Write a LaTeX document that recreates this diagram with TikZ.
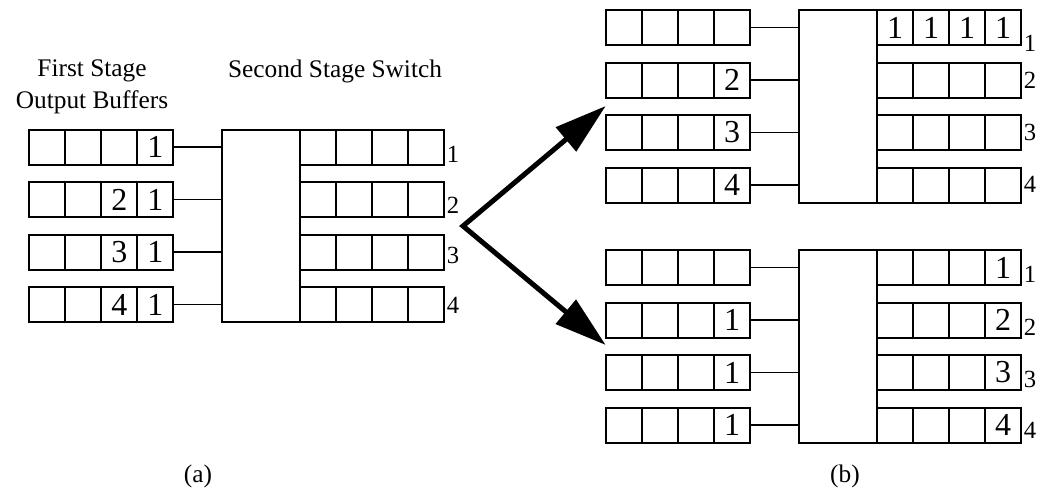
\documentclass[tikz,border=0pt]{standalone}
\usepackage{fontspec}
\setmainfont{Liberation Serif}
\usetikzlibrary{arrows.meta}

% one unit = one pixel of a 1038 x 493 canvas, y running downwards
\tikzset{
  cell/.style={draw, line width=1.5pt, minimum width=27pt, minimum height=26.25pt,
    inner sep=0pt, outer sep=0pt, font=\fontsize{24}{28}\selectfont},
  switchbox/.style={draw, line width=1.5pt, minimum width=58.5pt, minimum height=144.4pt,
    inner sep=0pt, outer sep=0pt, anchor=north west},
  wire/.style={line width=1.3pt},
  portlabel/.style={anchor=base west, inner sep=0pt, font=\fontsize{18.5}{22}\selectfont},
  caption/.style={anchor=base, inner sep=0pt, font=\fontsize{19}{23.5}\selectfont, align=center},
  forkarrow/.style={line width=3.75pt, line join=miter,
    {Triangle[length=39pt,width=23pt]}-{Triangle[length=39pt,width=23pt]}},
}

% a four-cell buffer: name, north-west corner, cell contents
\newcommand\qbuf[6]{%
  \node[cell, anchor=north west] (#1-1) at #2 {#3};
  \node[cell, anchor=west] (#1-2) at (#1-1.east) {#4};
  \node[cell, anchor=west] (#1-3) at (#1-2.east) {#5};
  \node[cell, anchor=west] (#1-4) at (#1-3.east) {#6};
}

% switch body with its four input wires
\newcommand\switchunit[2]{%
  \node[switchbox] (#1-sw) at #2 {};
  \foreach \r in {1,...,4}
    \draw[wire] (#1-i\r-4.east) -- (#1-i\r-4.east -| #1-sw.west);
}

\begin{document}
\begin{tikzpicture}[x=0.75pt, y=-0.75pt]
\useasboundingbox (0,0) rectangle (1038,493);

% ---------- (a) ----------
% base of a two-line node sits on its last line
\node[caption] (t1) at (92,108) {First Stage\\Output Buffers};
\node[caption] (t2) at (335,77) {Second Stage Switch};

\qbuf{a-i1}{(29.3,129.5)}{}{}{}{1}
\qbuf{a-i2}{(29.3,182)}{}{}{2}{1}
\qbuf{a-i3}{(29.3,234.5)}{}{}{3}{1}
\qbuf{a-i4}{(29.3,287)}{}{}{4}{1}
\switchunit{a}{(222.3,129.5)}
\qbuf{a-o1}{(300.3,129.5)}{}{}{}{}
\qbuf{a-o2}{(300.3,182)}{}{}{}{}
\qbuf{a-o3}{(300.3,234.5)}{}{}{}{}
\qbuf{a-o4}{(300.3,287)}{}{}{}{}
\node[portlabel] (a-l1) at (446.5,162) {1};
\node[portlabel] (a-l2) at (446.5,213) {2};
\node[portlabel] (a-l3) at (446.5,263) {3};
\node[portlabel] (a-l4) at (446.5,313) {4};

\node[caption] (cap-a) at (198,482) {(a)};

% ---------- (b), upper switch ----------
\qbuf{u-i1}{(606,10)}{}{}{}{}
\qbuf{u-i2}{(606,62.5)}{}{}{}{2}
\qbuf{u-i3}{(606,115)}{}{}{}{3}
\qbuf{u-i4}{(606,167.5)}{}{}{}{4}
\switchunit{u}{(799,10)}
\qbuf{u-o1}{(877,10)}{1}{1}{1}{1}
\qbuf{u-o2}{(877,62.5)}{}{}{}{}
\qbuf{u-o3}{(877,115)}{}{}{}{}
\qbuf{u-o4}{(877,167.5)}{}{}{}{}
\node[portlabel] (u-l1) at (1023.5,51) {1};
\node[portlabel] (u-l2) at (1023.5,88) {2};
\node[portlabel] (u-l3) at (1023.5,140) {3};
\node[portlabel] (u-l4) at (1023.5,192) {4};

% ---------- (b), lower switch ----------
\qbuf{d-i1}{(606,250)}{}{}{}{}
\qbuf{d-i2}{(606,302.5)}{}{}{}{1}
\qbuf{d-i3}{(606,355)}{}{}{}{1}
\qbuf{d-i4}{(606,407.5)}{}{}{}{1}
\switchunit{d}{(799,250)}
\qbuf{d-o1}{(877,250)}{}{}{}{1}
\qbuf{d-o2}{(877,302.5)}{}{}{}{2}
\qbuf{d-o3}{(877,355)}{}{}{}{3}
\qbuf{d-o4}{(877,407.5)}{}{}{}{4}
\node[portlabel] (d-l1) at (1023.5,282) {1};
\node[portlabel] (d-l2) at (1023.5,335) {2};
\node[portlabel] (d-l3) at (1023.5,387) {3};
\node[portlabel] (d-l4) at (1023.5,438) {4};

\node[caption] (cap-b) at (845,482) {(b)};

% ---------- the two possible outcomes ----------
\coordinate (fork) at (463,226);
\coordinate (up-tip) at (605.7,106);
\coordinate (down-tip) at (605.7,345);
\draw[forkarrow] (up-tip) -- (fork) -- (down-tip);
\end{tikzpicture}
\end{document}
